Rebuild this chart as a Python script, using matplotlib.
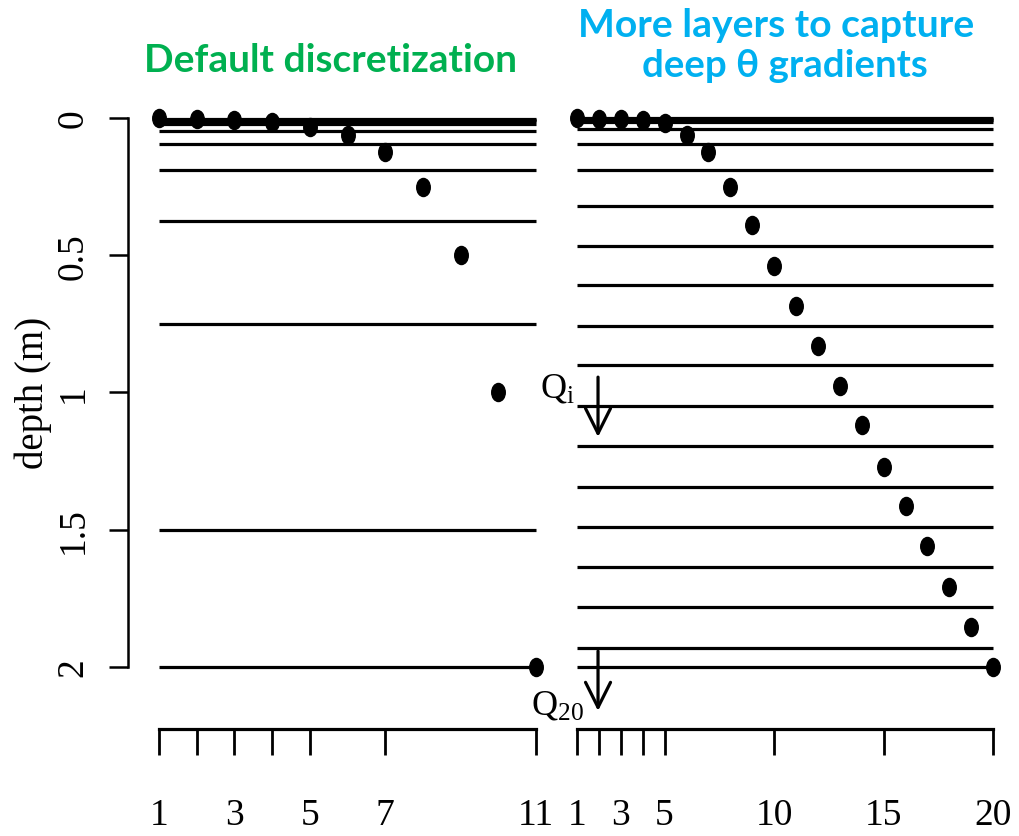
import matplotlib
matplotlib.use('Agg')
import matplotlib.pyplot as plt
from matplotlib.path import Path
from matplotlib.transforms import Affine2D

plt.rcParams.update({
    'font.family': 'Liberation Serif',
    'mathtext.fontset': 'custom',
    'mathtext.rm': 'Liberation Serif',
    'mathtext.it': 'Liberation Serif:italic',
})

# ── data: default discretization (left) ──
left_layer = [1, 2, 3, 4, 5, 6, 7, 8, 9, 10, 11]
left_depth = [0.0, 0.004, 0.008, 0.016, 0.031, 0.0625, 0.125, 0.25, 0.5, 1.0, 2.0]
left_iface = [0.002, 0.006, 0.012, 0.023, 0.047, 0.094, 0.19, 0.375, 0.75, 1.5, 2.0]
left_xticks = [1, 2, 3, 4, 5, 7, 11]
left_xlabels = ['1', '', '3', '', '5', '7', '11']

# ── data: more layers (right) ──
right_layer = [1, 2, 3, 4, 5, 6, 7, 8, 9, 10, 11, 12, 13, 14, 15, 16, 17, 18, 19, 20]
right_depth = [0.0, 0.002, 0.004, 0.008, 0.02, 0.0625, 0.125, 0.25, 0.39, 0.54,
               0.685, 0.83, 0.975, 1.12, 1.27, 1.415, 1.56, 1.71, 1.855, 2.0]
right_iface = [0.001, 0.003, 0.006, 0.014, 0.041, 0.094, 0.19, 0.32, 0.465, 0.61,
               0.757, 0.9, 1.05, 1.195, 1.345, 1.49, 1.635, 1.78, 1.93, 2.0]
right_xticks = [1, 2, 3, 4, 5, 10, 15, 20]
right_xlabels = ['1', '', '3', '', '5', '10', '15', '20']

y_ticks = [0, 0.5, 1, 1.5, 2]
y_labels = ['0', '0.5', '1', '1.5', '2']

W, H = 1019, 837
def box(x0, y0, x1, y1):
    return [x0 / W, 1 - y1 / H, (x1 - x0) / W, (y1 - y0) / H]

fig = plt.figure(figsize=(W / 100, H / 100), dpi=100)
fig.patch.set_facecolor('white')

axL = fig.add_axes(box(128, 97, 555, 690))
axR = fig.add_axes(box(560, 97, 1012, 690))
axL.set_xlim(1 - 31 / 37.7, 1 + (555 - 159) / 37.7)
axR.set_xlim(1 - 17 / 21.9, 1 + (1012 - 577) / 21.9)
for ax in (axL, axR):
    ax.set_ylim(2 + 22 / 274.5, -22 / 274.5)
    ax.patch.set_alpha(0)

dot = Path.unit_circle().transformed(Affine2D().scale(0.75, 1.0))

for ax, xs, ds, ifs in [(axL, left_layer, left_depth, left_iface),
                        (axR, right_layer, right_depth, right_iface)]:
    ax.plot(xs, ds, ls='none', marker=dot, ms=13, color='black', zorder=2, clip_on=False)
    ax.hlines(ifs, xs[0], xs[-1], color='black', lw=2.3, zorder=3)
    for s in ('top', 'right'):
        ax.spines[s].set_visible(False)
    ax.spines['bottom'].set_position(('outward', 29))
    ax.spines['bottom'].set_linewidth(2.3)
    ax.spines['bottom'].set_capstyle('projecting')
    ax.tick_params(axis='x', direction='out', length=19, width=2, pad=30, labelsize=27)

axL.spines['bottom'].set_bounds(left_xticks[0], left_xticks[-1])
axL.set_xticks(left_xticks, left_xlabels)
axR.spines['bottom'].set_bounds(right_xticks[0], right_xticks[-1])
axR.set_xticks(right_xticks, right_xlabels)

axL.spines['left'].set_bounds(y_ticks[0], y_ticks[-1])
axL.spines['left'].set_linewidth(1.8)
axL.set_yticks(y_ticks, y_labels)
axL.tick_params(axis='y', direction='out', length=14, width=1.8, pad=13, labelsize=27,
                labelrotation=90)
for lab in axL.get_yticklabels():
    lab.set_va('center')

axR.spines['left'].set_visible(False)
axR.tick_params(axis='y', left=False, labelleft=False)

fig.text(33 / W, 1 - 393 / H, 'depth (m)', rotation=90, ha='center', va='center', fontsize=28)

# flux arrows on the right panel
for y0, y1 in [(0.944, 1.162), (1.942, 2.160)]:
    axR.annotate('', xy=(1.96, y1), xytext=(1.96, y0),
                 arrowprops=dict(arrowstyle='->,head_length=0.9,head_width=0.45',
                                 lw=2.3, color='black', shrinkA=0, shrinkB=0,
                                 mutation_scale=20),
                 annotation_clip=False)
axR.text(0.087, 1.013, r'Q$_{\rm i}$', ha='center', va='baseline', fontsize=26, clip_on=False)
axR.text(0.10, 2.171, r'Q$_{\rm 20}$', ha='center', va='baseline', fontsize=26, clip_on=False)

# titles, sized to the widths measured on the reference
title_font = ['Lato', 'DejaVu Sans']
titles = [
    ('Default discretization', 331, 72, 373, '#00B050'),
    ('More layers to capture', 776, 37, 397, '#00B0F0'),
    ('deep θ gradients', 785, 77, 286, '#00B0F0'),
]
fig.canvas.draw()
renderer = fig.canvas.get_renderer()
for txt, cx, by, width, col in titles:
    t = fig.text(cx / W, 1 - by / H, txt, ha='center', va='baseline', fontsize=24,
                 fontweight='bold', color=col, family=title_font)
    w = t.get_window_extent(renderer).width
    t.set_fontsize(24 * width / w)

fig.savefig('out.png', dpi=100, facecolor='white')
